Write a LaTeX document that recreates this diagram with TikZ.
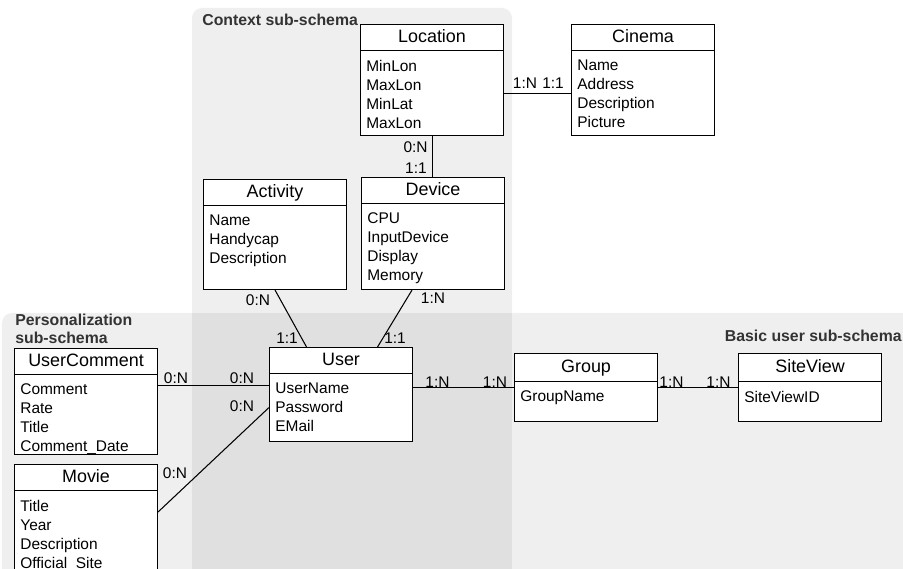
\documentclass[tikz,border=0pt]{standalone}
\usepackage{fontspec}
\setmainfont{Liberation Sans}
\definecolor{PanelGray}{HTML}{EFEFEF}
\definecolor{OverlapGray}{HTML}{E0E0E0}
\usepackage{tikz}

\begin{document}
\begin{tikzpicture}[
  entity/.style={
    draw, fill=white, anchor=north west,
    minimum width=2.86cm, inner sep=0pt, line width=0.6pt
  },
  enthead/.style={
    draw, line width=0.6pt, anchor=north,
    minimum width=2.86cm, minimum height=0.52cm, inner sep=0pt,
    text height=7.3pt, text depth=2pt,
    font=\fontsize{10.2}{12}\selectfont
  },
  entattr/.style={
    anchor=north west, align=left,
    inner xsep=0.12cm, inner ysep=0.17cm,
    font=\fontsize{8.8}{10.8}\selectfont
  },
  cardlbl/.style={inner sep=0pt, font=\fontsize{8.8}{10.8}\selectfont},
  schemalbl/.style={
    inner sep=0pt, text=black!80,
    font=\fontsize{9}{10.2}\selectfont\bfseries
  },
  link/.style={line width=0.6pt}
]
  % Page frame (903 x 569 px, 50 px per cm)
  \clip (0,0) rectangle (18.06,-11.38);

  % Sub-schema panels
  \fill[PanelGray, rounded corners=0.2cm]
    (3.84,-0.16) rectangle (10.24,-12);
  \fill[PanelGray, rounded corners=0.2cm]
    (0.04,-6.26) rectangle (18.5,-12);
  \fill[OverlapGray] (3.84,-6.26) rectangle (10.24,-12);

  % Panel labels
  \node[schemalbl, anchor=base west] (ctx-lbl) at (4.04,-0.52)
    {Context sub-schema};
  \node[schemalbl, anchor=north west, align=left] (pers-lbl)
    at (0.3,-6.27) {Personalization\\sub-schema};
  \node[schemalbl, anchor=base east] (basic-lbl) at (18.04,-6.84)
    {Basic user sub-schema};

  % Location
  \node[entity, minimum height=2.22cm] (loc) at (7.2,-0.48) {};
  \node[enthead] (loc-h) at (loc.north) {Location};
  \node[entattr] (loc-a) at (loc-h.south west)
    {MinLon\\MaxLon\\MinLat\\MaxLon};

  % Cinema
  \node[entity, minimum height=2.22cm] (cin) at (11.42,-0.48) {};
  \node[enthead] (cin-h) at (cin.north) {Cinema};
  \node[entattr] (cin-a) at (cin-h.south west)
    {Name\\Address\\Description\\Picture};

  % Activity
  \node[entity, minimum height=2.2cm] (act) at (4.06,-3.58) {};
  \node[enthead] (act-h) at (act.north) {Activity};
  \node[entattr] (act-a) at (act-h.south west)
    {Name\\Handycap\\Description};

  % Device
  \node[entity, minimum height=2.24cm] (dev) at (7.22,-3.54) {};
  \node[enthead] (dev-h) at (dev.north) {Device};
  \node[entattr] (dev-a) at (dev-h.south west)
    {CPU\\InputDevice\\Display\\Memory};

  % User
  \node[entity, minimum height=1.88cm] (usr) at (5.38,-6.94) {};
  \node[enthead] (usr-h) at (usr.north) {User};
  \node[entattr] (usr-a) at (usr-h.south west)
    {UserName\\Password\\EMail};

  % UserComment
  \node[entity, minimum height=2.12cm] (ucm) at (0.28,-6.96) {};
  \node[enthead] (ucm-h) at (ucm.north) {UserComment};
  \node[entattr] (ucm-a) at (ucm-h.south west)
    {Comment\\Rate\\Title\\Comment\_Date};

  % Movie (runs off the page)
  \node[entity, minimum height=2.6cm] (mov) at (0.28,-9.28) {};
  \node[enthead] (mov-h) at (mov.north) {Movie};
  \node[entattr] (mov-a) at (mov-h.south west)
    {Title\\Year\\Description\\Official\_Site};

  % Group
  \node[entity, minimum height=1.36cm] (grp) at (10.28,-7.06) {};
  \node[enthead, minimum height=0.56cm] (grp-h) at (grp.north) {Group};
  \node[entattr] (grp-a) at (grp-h.south west) {GroupName};

  % SiteView
  \node[entity, minimum height=1.36cm] (sv) at (14.76,-7.06) {};
  \node[enthead, minimum height=0.56cm] (sv-h) at (sv.north) {SiteView};
  \node[entattr] (sv-a) at (sv-h.south west) {SiteViewID};

  % Relationships
  \draw[link] ([yshift=-0.27cm]loc.east)
    -- ([yshift=-0.27cm]loc.east -| cin.west);
  \draw[link] (loc.south) -- (loc.south |- dev.north);
  \draw[link] (act.south) -- ([xshift=-0.69cm]usr.north);
  \draw[link] ([xshift=-0.42cm]dev.south) -- ([xshift=0.73cm]usr.north);
  \draw[link] ([yshift=0.32cm]ucm.east)
    -- ([yshift=0.32cm]ucm.east -| usr.west);
  \draw[link] ([yshift=-0.96cm]mov.north east)
    -- ([yshift=-0.26cm]usr.west);
  \draw[link] (usr.east |- grp.west) -- (grp.west);
  \draw[link] (grp.east) -- (sv.west);

  % Cardinalities
  \node[cardlbl] (c-lc1) at (10.5,-1.66) {1:N};
  \node[cardlbl] (c-lc2) at (11.06,-1.66) {1:1};
  \node[cardlbl, anchor=east] (c-ld1) at (8.56,-2.94) {0:N};
  \node[cardlbl, anchor=east] (c-ld2) at (8.54,-3.36) {1:1};
  \node[cardlbl] (c-au1) at (5.16,-6.0) {0:N};
  \node[cardlbl] (c-au2) at (5.74,-6.76) {1:1};
  \node[cardlbl] (c-du1) at (8.66,-5.96) {1:N};
  \node[cardlbl] (c-du2) at (7.9,-6.76) {1:1};
  \node[cardlbl] (c-cu1) at (3.52,-7.56) {0:N};
  \node[cardlbl] (c-cu2) at (4.84,-7.56) {0:N};
  \node[cardlbl] (c-mu1) at (3.5,-9.46) {0:N};
  \node[cardlbl] (c-mu2) at (4.84,-8.12) {0:N};
  \node[cardlbl] (c-ug1) at (8.75,-7.64) {1:N};
  \node[cardlbl] (c-ug2) at (9.9,-7.64) {1:N};
  \node[cardlbl] (c-gs1) at (13.43,-7.64) {1:N};
  \node[cardlbl] (c-gs2) at (14.37,-7.64) {1:N};
\end{tikzpicture}
\end{document}
